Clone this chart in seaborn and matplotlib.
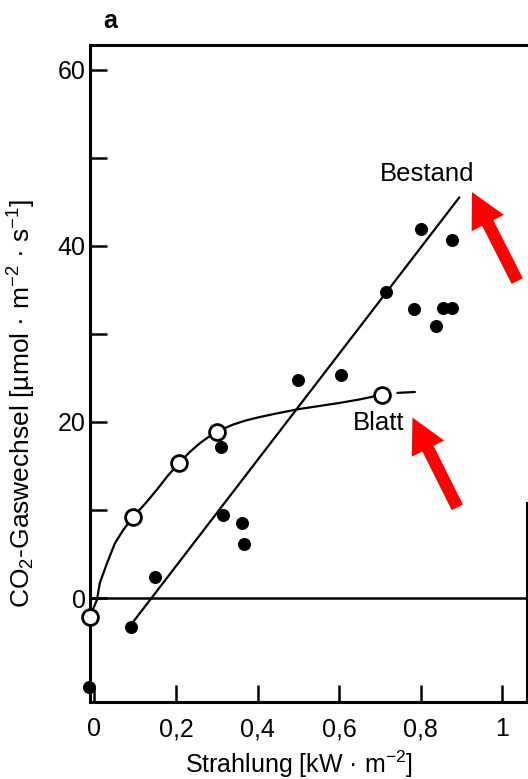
import matplotlib
matplotlib.use("Agg")
import pandas as pd
import matplotlib.pyplot as plt
import seaborn as sb

# Bestand (gefuellte Punkte)
bestand_x = [-0.013, 0.09, 0.148, 0.31, 0.315, 0.363, 0.368, 0.50, 0.605,
             0.715, 0.784, 0.80, 0.838, 0.855, 0.877, 0.877]
bestand_y = [-10.1, -3.3, 2.4, 17.2, 9.4, 8.5, 6.1, 24.8, 25.3,
             34.8, 32.8, 41.9, 30.9, 32.9, 32.9, 40.7]

# Gerade durch Bestand
bestand_fit_x = [0.09, 0.895]
bestand_fit_y = [-3.0, 45.5]

# Blatt (offene Kreise)
blatt_x = [-0.011, 0.094, 0.207, 0.30, 0.706]
blatt_y = [-2.2, 9.2, 15.3, 18.9, 23.1]

# Kurve Blatt
blatt_kurve_x = [-0.011, -0.003, 0.006, 0.013, 0.031, 0.05, 0.07, 0.094,
                 0.124, 0.153, 0.18, 0.207, 0.234, 0.259, 0.28, 0.30, 0.32,
                 0.34, 0.37, 0.40, 0.44, 0.50, 0.55, 0.60, 0.65, 0.706]
blatt_kurve_y = [-2.2, -1.2, -0.2, 1.7, 4.0, 6.2, 7.7, 9.2,
                 10.7, 12.3, 13.9, 15.3, 16.6, 17.6, 18.3, 18.9, 19.3,
                 19.7, 20.15, 20.5, 20.9, 21.45, 21.8, 22.15, 22.55, 23.1]
blatt_rest_x = [0.743, 0.786]
blatt_rest_y = [23.3, 23.4]

x_ticks = [0, 0.2, 0.4, 0.6, 0.8, 1]
x_labels = ["0", "0,2", "0,4", "0,6", "0,8", "1"]
y_ticks = [0, 20, 40, 60]
y_minor = [10, 30, 50]

sb.set_style("ticks")
plt.rcParams["font.family"] = ["Liberation Sans", "DejaVu Sans"]
plt.rcParams["mathtext.fontset"] = "custom"
plt.rcParams["mathtext.rm"] = "Liberation Sans"
plt.rcParams["mathtext.it"] = "Liberation Sans:italic"
plt.rcParams["mathtext.default"] = "regular"
plt.rcParams["text.color"] = "black"
plt.rcParams["axes.labelcolor"] = "black"

fig = plt.figure(figsize=(5.28, 7.79), dpi=100)
ax = fig.add_axes([90 / 528, 1 - 702 / 779, 437 / 528, 657 / 779])

df_bestand = pd.DataFrame({"x": bestand_x, "y": bestand_y})
df_blatt = pd.DataFrame({"x": blatt_x, "y": blatt_y})

ax.axhline(0, color="black", lw=1.8, zorder=1)

sb.lineplot(x=bestand_fit_x, y=bestand_fit_y, color="black", lw=1.6,
            sort=False, estimator=None, ax=ax, zorder=2)
sb.lineplot(x=blatt_kurve_x, y=blatt_kurve_y, color="black", lw=1.6,
            sort=False, estimator=None, ax=ax, zorder=2)
sb.lineplot(x=blatt_rest_x, y=blatt_rest_y, color="black", lw=1.6,
            sort=False, estimator=None, ax=ax, zorder=2)

sb.scatterplot(data=df_bestand, x="x", y="y", color="black", s=75,
               edgecolor="black", ax=ax, zorder=3, clip_on=False)
sb.scatterplot(data=df_blatt, x="x", y="y", color="white", s=130,
               edgecolor="black", linewidth=2, ax=ax, zorder=4, clip_on=False)

ax.set_xlim(-0.011, 1.061)
ax.set_ylim(-11.8, 62.8)
ax.set_xticks(x_ticks)
ax.set_xticklabels(x_labels)
ax.set_yticks(y_ticks)
ax.set_yticks(y_minor, minor=True)
ax.tick_params(axis="both", which="both", direction="in", length=12,
               width=1.8, labelsize=18, color="black", labelcolor="black")
ax.tick_params(axis="x", pad=11)
ax.tick_params(axis="y", pad=3)

for s in ax.spines.values():
    s.set_linewidth(2.2)
    s.set_color("black")
ax.spines["right"].set_bounds(-11.8, 10.8)

ax.set_xlabel("Strahlung [kW · m$^{-2}$]", fontsize=18)
ax.set_ylabel("CO$_2$-Gaswechsel [\u00b5mol · m$^{-2}$ · s$^{-1}$]", fontsize=19)
ax.xaxis.set_label_coords(0.478, -0.071)
ax.yaxis.set_label_coords(-0.118, 0.455)

ax.text(0.817, 48.1, "Bestand", fontsize=18.5, ha="center", va="center")
ax.text(0.697, 19.9, "Blatt", fontsize=18.5, ha="center", va="center")
fig.text(110 / 528, 1 - 21 / 779, "a", fontsize=18, fontweight="bold",
         ha="center", va="center")

# rote Pfeile
pfeil = dict(facecolor="red", edgecolor="none", width=9, headwidth=26,
             headlength=25, shrink=0)
ax.annotate("", xy=(0.926, 46.1), xytext=(1.037, 36.0), arrowprops=pfeil,
            annotation_clip=False)
ax.annotate("", xy=(0.780, 20.5), xytext=(0.890, 10.3), arrowprops=pfeil,
            annotation_clip=False)

fig.savefig("out.png", dpi=100)
